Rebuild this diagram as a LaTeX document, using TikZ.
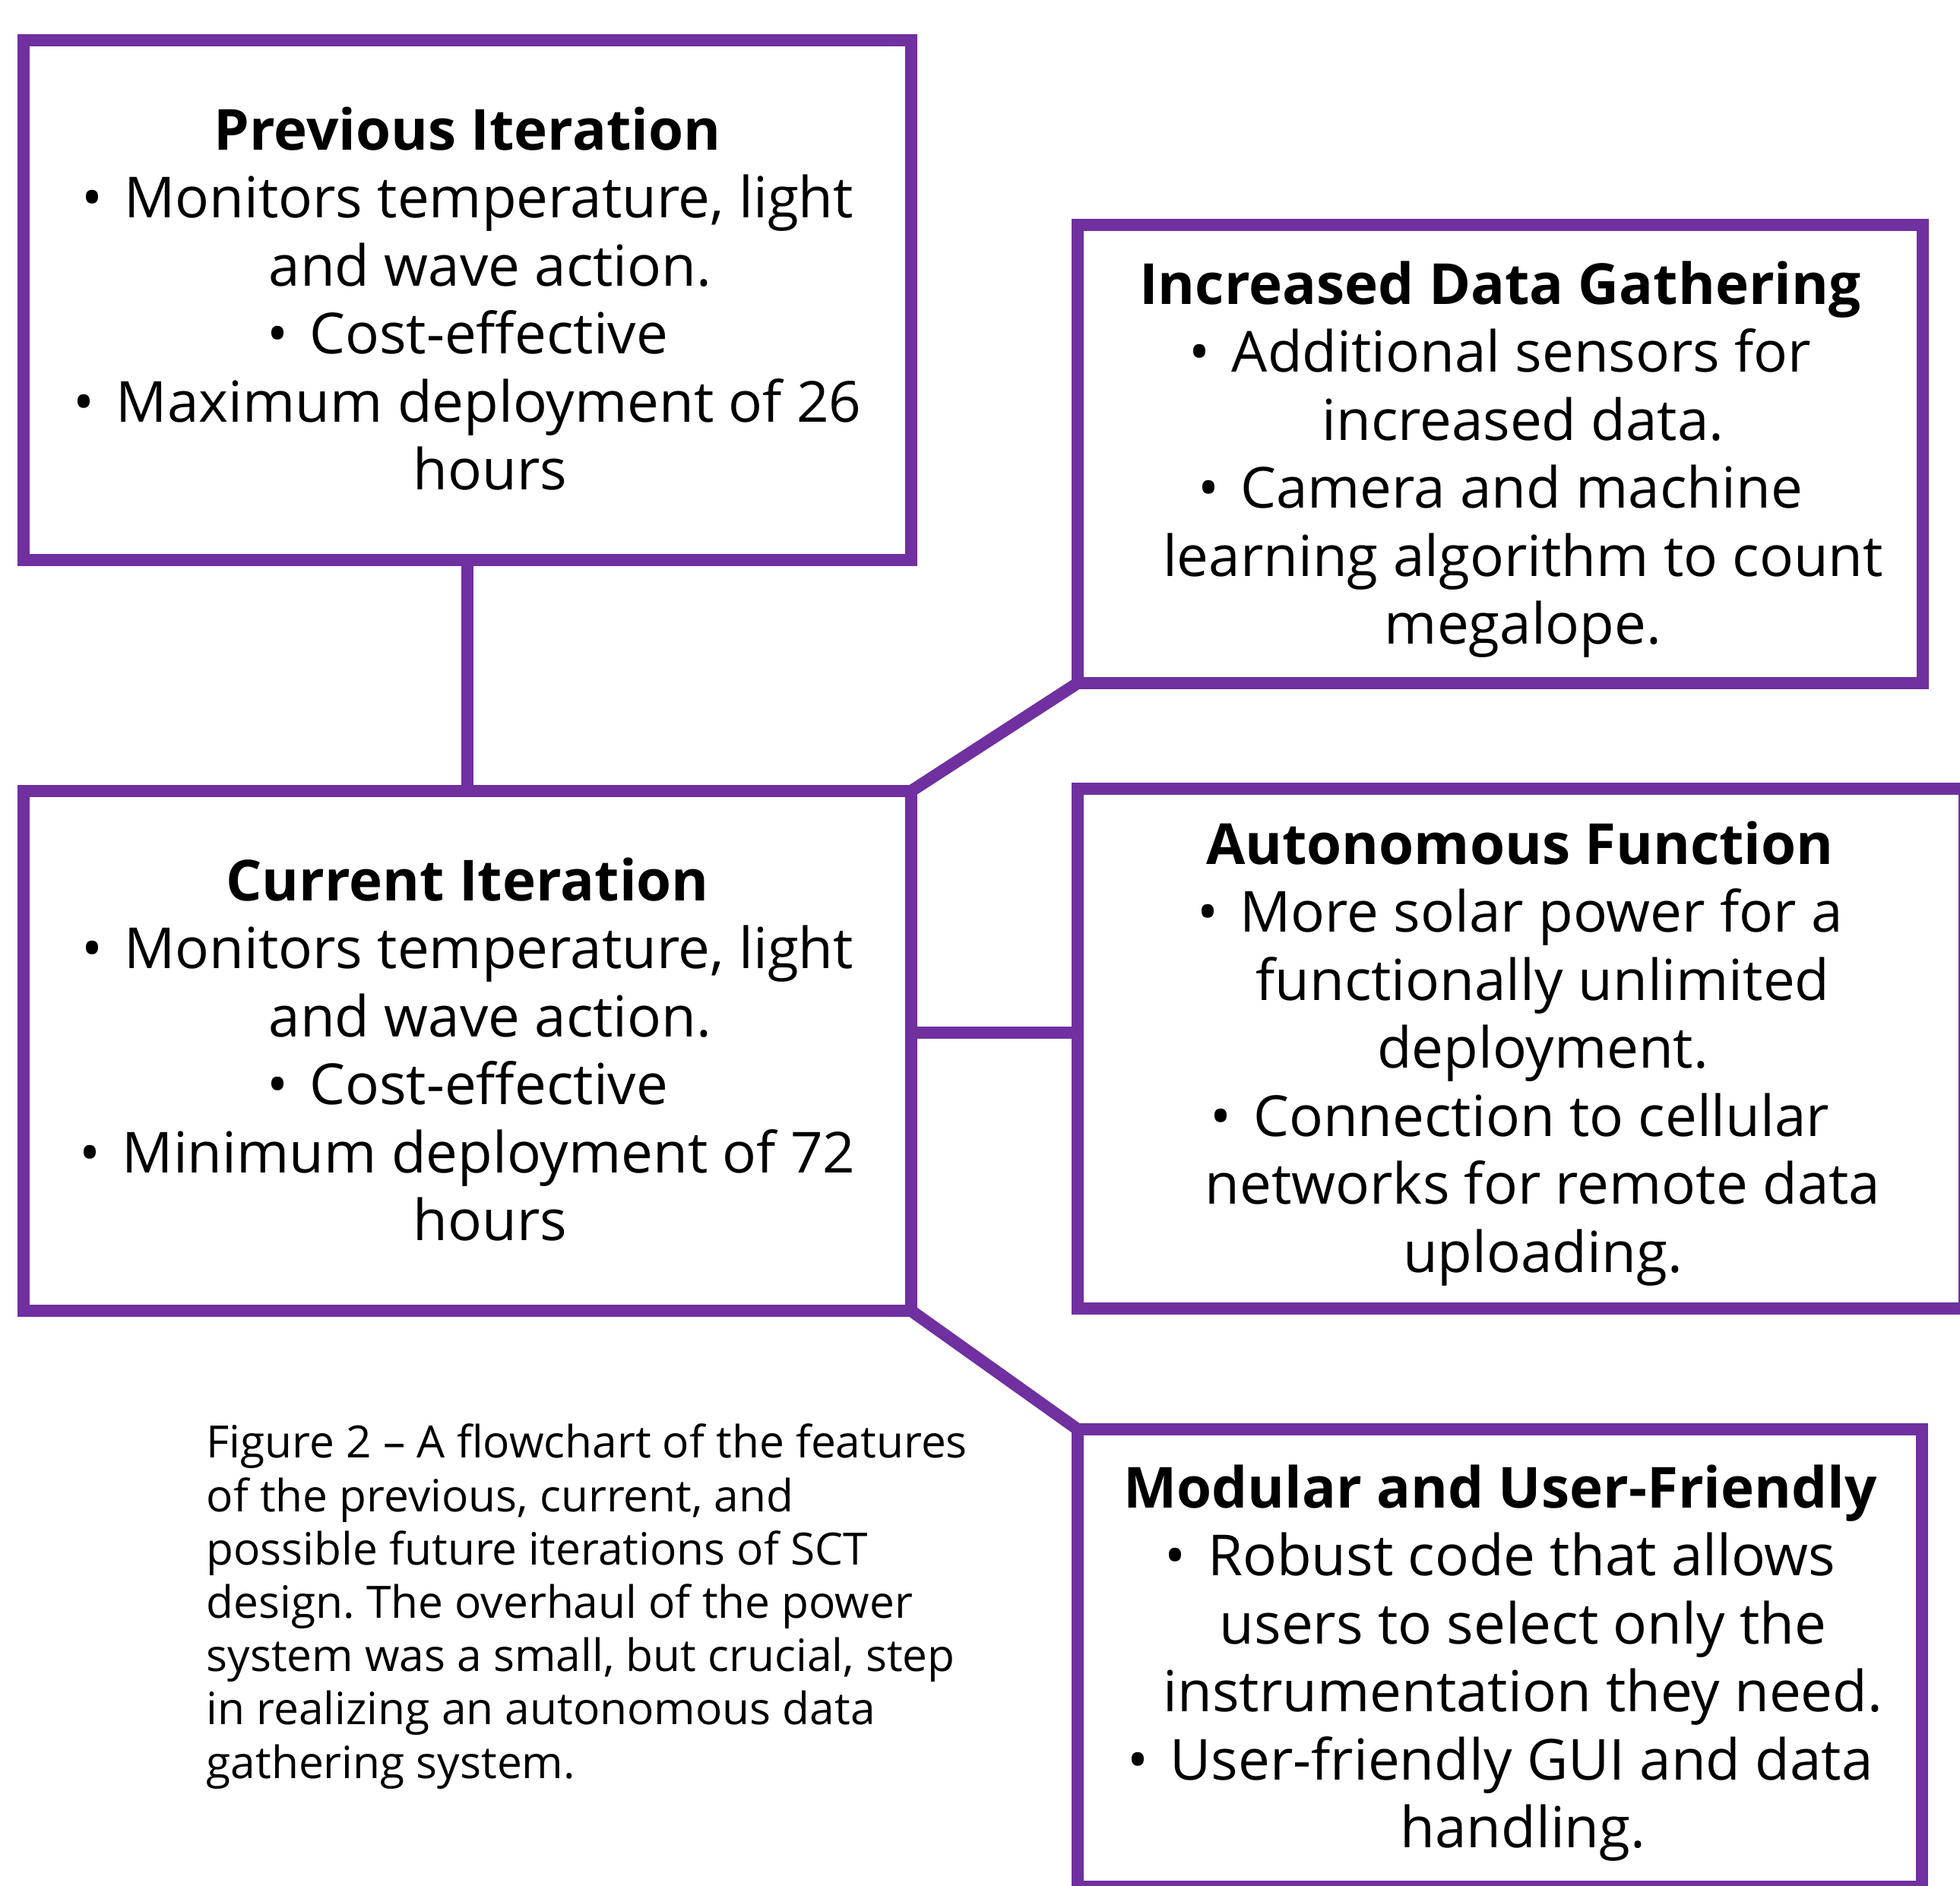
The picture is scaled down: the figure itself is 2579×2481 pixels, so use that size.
\documentclass[tikz,border=0pt]{standalone}
\usepackage{fontspec}
\setmainfont{Open Sans}
\frenchspacing
\definecolor{boxpurple}{RGB}{112,48,160}
\newcommand{\bul}{\textbullet\hspace{0.38em}}
\newcommand{\cont}{\hspace*{18pt}}
\tikzset{
  panel/.style={draw=boxpurple, line width=4.8pt, rectangle, inner sep=0pt, outer sep=0pt},
  link/.style={draw=boxpurple, line width=4.8pt},
  boxtext/.style={align=center, anchor=base, inner sep=0pt, font=\fontsize{22.35pt}{26.85pt}\selectfont},
  captext/.style={align=left, anchor=base west, inner sep=0pt, font=\fontsize{17.58pt}{21.06pt}\selectfont}
}
\begin{document}
\begin{tikzpicture}[x=0.3pt, y=-0.3pt]
\useasboundingbox[fill=white] (0,0) rectangle (2579,2481);

% boxes
\node[panel, minimum width=350.4pt, minimum height=205.2pt] (prev) at (615,395) {};
\node[panel, minimum width=350.4pt, minimum height=205.2pt] (curr) at (615,1383) {};
\node[panel, minimum width=333.6pt, minimum height=180.9pt] (inc) at (1974,597.5) {};
\node[panel, minimum width=350.1pt, minimum height=205.2pt] (aut) at (2001.5,1380) {};
\node[panel, minimum width=333.3pt, minimum height=180.6pt] (mod) at (1973.5,2182) {};

% connectors
\draw[link] (prev.south) -- (curr.north);
\draw[link] (curr.north east) -- (inc.south west);
\draw[link] ([yshift=7.2pt]curr.east) -- ([yshift=7.2pt]curr.east -| aut.west);
\draw[link] (curr.south east) -- (mod.north west);

% texts (node base = baseline of the last line)
\node[boxtext] (prevtxt) at (615,644.5) {\textbf{Previous Iteration}\\
\bul Monitors temperature, light\\
\cont and wave action.\\
\bul Cost-effective\\
\bul Maximum deployment of 26\\
\cont hours};

\node[boxtext] (currtxt) at (615,1632.5) {\textbf{Current Iteration}\\
\bul Monitors temperature, light\\
\cont and wave action.\\
\bul Cost-effective\\
\bul Minimum deployment of 72\\
\cont hours};

\node[boxtext] (inctxt) at (1974,847.5) {\textbf{Increased Data Gathering}\\
\bul Additional sensors for\\
\cont increased data.\\
\bul Camera and machine\\
\cont learning algorithm to count\\
\cont megalope.};

\node[boxtext] (auttxt) at (2000,1674) {\textbf{Autonomous Function}\\
\bul More solar power for a\\
\cont functionally unlimited\\
\cont deployment.\\
\bul Connection to cellular\\
\cont networks for remote data\\
\cont uploading.};

\node[boxtext] (modtxt) at (1974,2431.5) {\textbf{Modular and User-Friendly}\\
\bul Robust code that allows\\
\cont users to select only the\\
\cont instrumentation they need.\\
\bul User-friendly GUI and data\\
\cont handling.};

\node[captext] (caption) at (271,2340) {Figure 2 – A flowchart of the features\\
of the previous, current, and\\
possible future iterations of SCT\\
design. The overhaul of the power\\
system was a small, but crucial, step\\
in realizing an autonomous data\\
gathering system.};
\end{tikzpicture}
\end{document}
